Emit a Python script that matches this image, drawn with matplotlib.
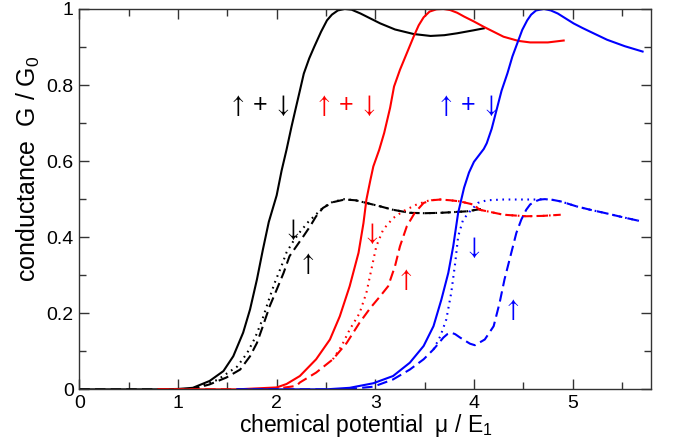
import matplotlib
matplotlib.use("Agg")
import matplotlib.pyplot as plt
from matplotlib.ticker import MultipleLocator

plt.rcParams['font.family'] = ['Liberation Sans', 'DejaVu Sans']
plt.rcParams['mathtext.fontset'] = 'custom'
plt.rcParams['mathtext.rm'] = 'Liberation Sans'
plt.rcParams['mathtext.it'] = 'Liberation Sans'

# black: total (solid), spin up (dashed), spin down (dotted)
k_x = [0, 0.8, 1.0, 1.15, 1.32, 1.46, 1.56, 1.66, 1.73, 1.80, 1.86, 1.92, 2.0, 2.05,
       2.1, 2.15, 2.19, 2.235, 2.275, 2.33, 2.38, 2.45, 2.51, 2.56, 2.62, 2.69, 2.76,
       2.85, 2.95, 3.05, 3.2, 3.39, 3.56, 3.7, 3.83, 4.0, 4.1]
k_tot = [0, 0, 0.001, 0.004, 0.022, 0.048, 0.087, 0.149, 0.21, 0.289, 0.367, 0.44,
         0.51, 0.575, 0.63, 0.69, 0.735, 0.785, 0.83, 0.87, 0.90, 0.94, 0.97, 0.985,
         0.996, 1.0, 0.998, 0.988, 0.975, 0.962, 0.946, 0.934, 0.929, 0.931, 0.936,
         0.944, 0.949]

ku_x = [0, 0.9, 1.15, 1.32, 1.49, 1.63, 1.73, 1.80, 1.86, 1.93, 2.0, 2.07, 2.13, 2.20,
        2.27, 2.34, 2.40, 2.47, 2.57, 2.69, 2.8, 2.91, 3.05, 3.18, 3.35, 3.5, 3.66,
        3.8, 3.93, 4.07]
k_up = [0, 0, 0.001, 0.013, 0.031, 0.052, 0.087, 0.122, 0.166, 0.219, 0.262, 0.306,
        0.35, 0.376, 0.402, 0.429, 0.455, 0.477, 0.492, 0.499, 0.497, 0.49, 0.481,
        0.472, 0.464, 0.463, 0.464, 0.466, 0.468, 0.474]

kd_x = [1.2, 1.4, 1.6, 1.7, 1.78, 1.85, 1.92, 1.98, 2.05, 2.1, 2.17, 2.24, 2.32, 2.4,
        2.47, 2.57, 2.69, 2.8, 2.91, 3.05, 3.18, 3.35, 3.5, 3.66, 3.8, 3.93, 4.07]
k_dn = [0.005, 0.025, 0.06, 0.095, 0.135, 0.18, 0.235, 0.28, 0.325, 0.36, 0.39, 0.415,
        0.44, 0.46, 0.478, 0.493, 0.5, 0.497, 0.49, 0.481, 0.472, 0.464, 0.463, 0.464,
        0.466, 0.468, 0.474]

# red
r_x = [0.8, 1.6, 2.0, 2.1, 2.235, 2.40, 2.54, 2.64, 2.74, 2.83, 2.88, 2.91, 2.95, 2.98,
       3.04, 3.09, 3.15, 3.19, 3.25, 3.32, 3.39, 3.44, 3.49, 3.55, 3.62, 3.69, 3.76,
       3.83, 3.90, 4.0, 4.10, 4.2, 4.30, 4.45, 4.57, 4.75, 4.91]
r_tot = [0, 0, 0.005, 0.014, 0.035, 0.079, 0.131, 0.192, 0.271, 0.359, 0.437, 0.499,
         0.55, 0.586, 0.63, 0.674, 0.74, 0.796, 0.84, 0.884, 0.928, 0.957, 0.978, 0.993,
         0.999, 1.0, 0.997, 0.99, 0.98, 0.967, 0.953, 0.94, 0.927, 0.916, 0.912, 0.912,
         0.917]

ru_x = [0.8, 1.8, 2.0, 2.2, 2.235, 2.40, 2.57, 2.71, 2.84, 2.95, 3.05, 3.13, 3.20, 3.25,
        3.32, 3.40, 3.49, 3.57, 3.66, 3.76, 3.86, 3.99, 4.06, 4.30, 4.53, 4.70, 4.88]
r_up = [0, 0, 0.002, 0.009, 0.018, 0.044, 0.079, 0.122, 0.175, 0.214, 0.245, 0.271,
        0.324, 0.376, 0.429, 0.464, 0.49, 0.497, 0.499, 0.497, 0.494, 0.486, 0.472,
        0.459, 0.455, 0.456, 0.459]

rd_x = [2.57, 2.66, 2.74, 2.84, 2.91, 2.96, 3.01, 3.08, 3.18, 3.28, 3.42, 3.55, 3.66,
        3.76, 3.86, 3.99, 4.06, 4.30, 4.53, 4.70, 4.88]
r_dn = [0.079, 0.115, 0.157, 0.2, 0.254, 0.315, 0.376, 0.42, 0.45, 0.468, 0.486, 0.497,
        0.499, 0.497, 0.494, 0.486, 0.472, 0.459, 0.455, 0.456, 0.459]

# blue
b_x = [1.6, 2.5, 2.74, 2.98, 3.18, 3.35, 3.49, 3.59, 3.67, 3.74, 3.79, 3.84, 3.9, 3.95,
       4.0, 4.05, 4.1, 4.13, 4.18, 4.23, 4.28, 4.34, 4.39, 4.44, 4.49, 4.54, 4.58, 4.63,
       4.71, 4.78, 4.85, 4.93, 5.01, 5.1, 5.18, 5.35, 5.53, 5.71]
b_tot = [0, 0, 0.004, 0.016, 0.035, 0.07, 0.114, 0.166, 0.236, 0.306, 0.376, 0.464,
         0.53, 0.57, 0.598, 0.615, 0.632, 0.647, 0.685, 0.735, 0.785, 0.831, 0.875,
         0.91, 0.945, 0.97, 0.985, 0.996, 1.0, 0.996, 0.988, 0.975, 0.962, 0.95, 0.94,
         0.919, 0.902, 0.888]

bu_x = [1.6, 2.5, 2.74, 2.98, 3.18, 3.35, 3.49, 3.59, 3.69, 3.73, 3.77, 3.81, 3.86,
        3.96, 4.01, 4.11, 4.20, 4.26, 4.31, 4.37, 4.43, 4.48, 4.53, 4.57, 4.62, 4.67,
        4.72, 4.8, 4.88, 5.04, 5.18, 5.32, 5.5, 5.69]
b_up = [0, 0, 0.001, 0.007, 0.026, 0.052, 0.079, 0.105, 0.136, 0.145, 0.149, 0.145,
        0.136, 0.12, 0.116, 0.131, 0.166, 0.227, 0.289, 0.35, 0.411, 0.446, 0.472,
        0.486, 0.494, 0.499, 0.5, 0.498, 0.494, 0.481, 0.472, 0.464, 0.453, 0.442]

bd_x = [3.59, 3.66, 3.72, 3.77, 3.81, 3.84, 3.89, 3.96, 4.04, 4.13, 4.3, 4.47, 4.64,
        4.72, 4.8, 4.88, 5.04, 5.18, 5.32, 5.5, 5.69]
b_dn = [0.105, 0.14, 0.184, 0.254, 0.332, 0.402, 0.446, 0.468, 0.49, 0.497, 0.499,
        0.499, 0.499, 0.5, 0.498, 0.494, 0.481, 0.472, 0.464, 0.453, 0.442]

fig = plt.figure(figsize=(6.73, 4.47), dpi=100)
ax = fig.add_axes([0.118, 0.129, 0.850, 0.851])

lw = 1.5
for c, (tx, tot), (ux, up), (dx, dn) in [
        ('black', (k_x, k_tot), (ku_x, k_up), (kd_x, k_dn)),
        ('#ff0000', (r_x, r_tot), (ru_x, r_up), (rd_x, r_dn)),
        ('#0000ff', (b_x, b_tot), (bu_x, b_up), (bd_x, b_dn))]:
    ax.plot(tx, tot, color=c, lw=lw)
    ax.plot(dx, dn, color=c, lw=lw, linestyle=(0, (0.8, 2.2)))
    ax.plot(ux, up, color=c, lw=lw, linestyle=(0, (5, 2.5)))

# spin labels
up = r"$\uparrow$"
dn = r"$\downarrow$"
both = up + "\u2009+\u2009" + dn
kw = dict(fontsize=18, ha='center', va='center', math_fontfamily='stix')
ax.text(1.82, 0.745, both, color='black', **kw)
ax.text(2.69, 0.745, both, color='#ff0000', **kw)
ax.text(3.93, 0.745, both, color='#0000ff', **kw)
ax.text(2.15, 0.42, dn, color='black', **kw)
ax.text(2.30, 0.33, up, color='black', **kw)
ax.text(2.95, 0.41, dn, color='#ff0000', **kw)
ax.text(3.30, 0.29, up, color='#ff0000', **kw)
ax.text(3.99, 0.372, dn, color='#0000ff', **kw)
ax.text(4.38, 0.21, up, color='#0000ff', **kw)

ax.set_xlim(0, 5.8)
ax.set_ylim(0, 1)
ax.xaxis.set_minor_locator(MultipleLocator(0.5))
ax.yaxis.set_minor_locator(MultipleLocator(0.1))
ax.set_xticks([0, 1, 2, 3, 4, 5])
ax.set_xticklabels(['0', '1', '2', '3', '4', '5'])
ax.set_yticks([0, 0.2, 0.4, 0.6, 0.8, 1.0])
ax.set_yticklabels(['0', '0.2', '0.4', '0.6', '0.8', '1'])
ax.tick_params(which='both', direction='in', top=True, right=True, labelsize=14,
               width=1.0, color='#333333')
ax.tick_params(which='major', length=7, pad=4)
ax.tick_params(which='minor', length=5)
for s in ax.spines.values():
    s.set_linewidth(1.0)
    s.set_color('#333333')

ax.set_xlabel("chemical potential  μ / E$_1$", fontsize=16.5, labelpad=0)
ax.set_ylabel("conductance  G / G$_0$", fontsize=18)
ax.yaxis.set_label_coords(-0.066, 0.58)

fig.savefig("out.png", dpi=100)
